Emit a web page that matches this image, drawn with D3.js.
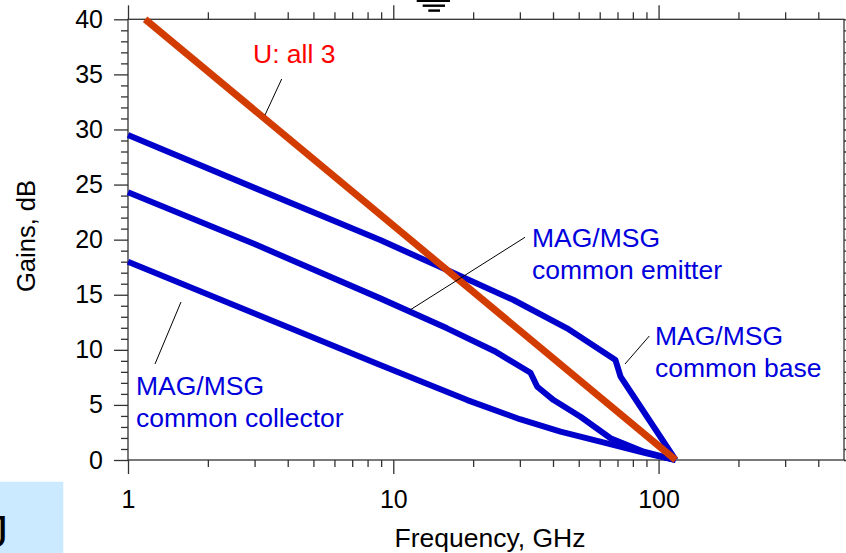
<!DOCTYPE html>
<html>
<head>
<meta charset="utf-8">
<script src="https://cdn.jsdelivr.net/npm/d3@7"></script>
<style>
  html, body { margin: 0; padding: 0; background: #fff; }
  svg { display: block; font-family: "Liberation Sans", Arial, Helvetica, sans-serif; }
</style>
</head>
<body>
<svg id="chart" width="846" height="553"></svg>
<script>
// Unilateral gain U (same for all three configurations)
const uFreq = [1.16, 116];
const uGain = [40, 0];

// MAG/MSG, common base
const cbFreq = [1, 3, 8.93, 15.95, 28.4, 45.2, 68.8, 71.9, 80.7, 116];
const cbGain = [29.5, 24.7, 19.96, 17.24, 14.52, 11.95, 9.07, 7.56, 5.74, 0];

// MAG/MSG, common emitter
const ceFreq = [1, 3, 8.93, 15.95, 24, 32.9, 34.9, 40.2, 50.8, 65.9, 88, 116];
const ceGain = [24.3, 19.6, 14.67, 11.95, 9.9, 7.92, 6.65, 5.44, 3.93, 1.97, 0.75, 0];

// MAG/MSG, common collector
const ccFreq = [1, 3, 8.93, 19, 30, 42.7, 64, 90, 116];
const ccGain = [18, 13.3, 8.62, 5.44, 3.7, 2.57, 1.51, 0.6, 0];

// Axis ticks
const xMajorTicks = [1, 10, 100];
const xTickLabels = ["1", "10", "100"];
const xMinorTicks = [2, 3, 4, 5, 6, 7, 8, 9, 20, 30, 40, 50, 60, 70, 80, 90, 200, 300, 400];
const yMajorTicks = [0, 5, 10, 15, 20, 25, 30, 35, 40];
const yMinorTicks = d3.range(0, 41).filter(v => v % 5 !== 0);

const svg = d3.select("#chart");
const W = 846, H = 553;
const plot = { left: 128, right: 844, top: 19.3, bottom: 460 };

svg.append("rect").attr("width", W).attr("height", H).attr("fill", "#fff");

const x = d3.scaleLog().domain([1, 500]).range([plot.left, plot.right]);
const y = d3.scaleLinear().domain([0, 40]).range([plot.bottom, plot.top]);

const axisColor = "#333";

function styleAxis(g) {
  g.select(".domain").remove();
  g.selectAll(".tick line").attr("stroke", axisColor).attr("stroke-width", 1.3);
  g.selectAll(".tick text").attr("fill", "#000").attr("font-size", 25)
    .attr("font-family", "Liberation Sans, Arial, sans-serif");
}

// Bottom axis
svg.append("g").attr("transform", `translate(0,${plot.bottom})`)
  .call(d3.axisBottom(x).tickValues(xMajorTicks).tickSize(14).tickPadding(16)
    .tickFormat((d, i) => xTickLabels[i]))
  .call(styleAxis);
svg.append("g").attr("transform", `translate(0,${plot.bottom})`)
  .call(d3.axisBottom(x).tickValues(xMinorTicks).tickSize(7).tickFormat(""))
  .call(styleAxis);

// Top axis
svg.append("g").attr("transform", `translate(0,${plot.top})`)
  .call(d3.axisTop(x).tickValues(xMajorTicks).tickSize(14).tickFormat(""))
  .call(styleAxis);
svg.append("g").attr("transform", `translate(0,${plot.top})`)
  .call(d3.axisTop(x).tickValues(xMinorTicks).tickSize(7).tickFormat(""))
  .call(styleAxis);

// Left axis
svg.append("g").attr("transform", `translate(${plot.left},0)`)
  .call(d3.axisLeft(y).tickValues(yMajorTicks).tickSize(14).tickPadding(11)
    .tickFormat(d3.format("d")))
  .call(styleAxis);
svg.append("g").attr("transform", `translate(${plot.left},0)`)
  .call(d3.axisLeft(y).tickValues(yMinorTicks).tickSize(7).tickFormat(""))
  .call(styleAxis);

// Right axis
svg.append("g").attr("transform", `translate(${plot.right},0)`)
  .call(d3.axisRight(y).tickValues(yMajorTicks).tickSize(14).tickFormat(""))
  .call(styleAxis);
svg.append("g").attr("transform", `translate(${plot.right},0)`)
  .call(d3.axisRight(y).tickValues(yMinorTicks).tickSize(7).tickFormat(""))
  .call(styleAxis);

// Frame
svg.append("rect")
  .attr("x", plot.left).attr("y", plot.top)
  .attr("width", plot.right - plot.left).attr("height", plot.bottom - plot.top)
  .attr("fill", "none").attr("stroke", axisColor).attr("stroke-width", 1.3);

// Axis titles
svg.append("text")
  .attr("x", (plot.left + plot.right) / 2 + 4).attr("y", 547)
  .attr("text-anchor", "middle").attr("font-size", 26.5).attr("fill", "#000")
  .text("Frequency, GHz");

svg.append("text")
  .attr("transform", "translate(35,236) rotate(-90)")
  .attr("text-anchor", "middle").attr("font-size", 25.5).attr("fill", "#000")
  .text("Gains, dB");

// Curves
const line = d3.line().x(d => x(d[0])).y(d => y(d[1]));
const zip = (fs, gs) => fs.map((f, i) => [f, gs[i]]);

const blue = "#0000cc";
const curves = [
  { data: zip(ccFreq, ccGain), color: blue, width: 6 },
  { data: zip(ceFreq, ceGain), color: blue, width: 6 },
  { data: zip(cbFreq, cbGain), color: blue, width: 6 },
  { data: zip(uFreq, uGain), color: "#d33c00", width: 7 }
];
svg.append("g").selectAll("path").data(curves).join("path")
  .attr("d", d => line(d.data))
  .attr("fill", "none")
  .attr("stroke", d => d.color)
  .attr("stroke-width", d => d.width)
  .attr("stroke-linejoin", "round");

// Leader lines
const leaders = [
  [281.7, 79, 265, 115],
  [525, 237.3, 410, 310],
  [649.3, 336, 625, 364],
  [155, 364, 181, 302]
];
svg.append("g").selectAll("line").data(leaders).join("line")
  .attr("x1", d => d[0]).attr("y1", d => d[1])
  .attr("x2", d => d[2]).attr("y2", d => d[3])
  .attr("stroke", "#000").attr("stroke-width", 1);

// Curve labels
const labels = [
  { x: 253, y: 63, lines: ["U: all 3"], color: "#ff0000" },
  { x: 532, y: 247, lines: ["MAG/MSG", "common emitter"], color: "#0000dd" },
  { x: 655, y: 345, lines: ["MAG/MSG", "common base"], color: "#0000dd" },
  { x: 136, y: 395, lines: ["MAG/MSG", "common collector"], color: "#0000dd" }
];
labels.forEach(l => {
  const t = svg.append("text").attr("font-size", 26.5).attr("fill", l.color);
  l.lines.forEach((s, i) => {
    t.append("tspan").attr("x", l.x).attr("y", l.y + i * 32).text(s);
  });
});

// Ground symbol at top edge
const groundBars = [[416.7, 0, 33.3, 2], [422.7, 4.5, 22.3, 2.4], [428.3, 9.4, 11.7, 2.4]];
svg.append("g").selectAll("rect").data(groundBars).join("rect")
  .attr("x", d => d[0]).attr("y", d => d[1])
  .attr("width", d => d[2]).attr("height", d => d[3])
  .attr("fill", "#000");

// Corner tab
svg.append("rect").attr("x", 0).attr("y", 481.7).attr("width", 63.3).attr("height", H - 481.7)
  .attr("fill", "#cceaff");
svg.append("text").attr("x", -14).attr("y", 547).attr("font-size", 44).attr("fill", "#000")
  .text("J");
</script>
</body>
</html>
